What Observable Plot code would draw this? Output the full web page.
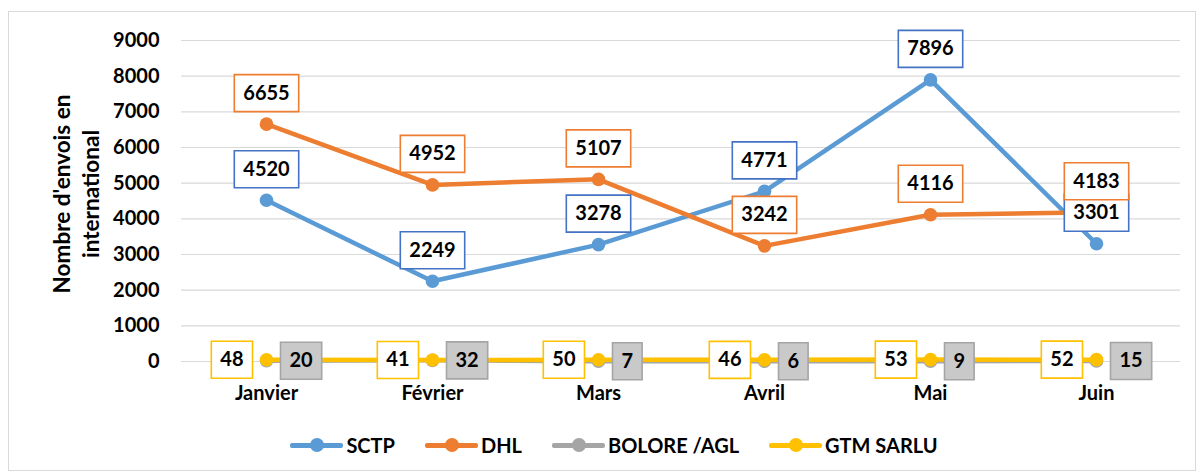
<!DOCTYPE html>
<html><head><meta charset="utf-8">
<script src="https://cdn.jsdelivr.net/npm/d3@7"></script>
<script src="https://cdn.jsdelivr.net/npm/@observablehq/plot@0.6"></script>
<style>
body{margin:0;background:#fff;font-family:Lato,sans-serif;}
#wrap{position:relative;width:1204px;height:475px;overflow:hidden;}
#frame{position:absolute;left:8px;top:11px;width:1186px;height:458px;border:1px solid #d9d9d9;pointer-events:none;}
#chart{position:absolute;left:0;top:0;}
#legend{position:absolute;left:24px;right:0;top:430px;height:30px;display:flex;justify-content:center;align-items:center;gap:30px;font-weight:bold;font-size:20px;color:#000;}
.item{display:flex;align-items:center;gap:3px;}
.sw{position:relative;width:53px;height:14px;}
.sw .ln{position:absolute;left:0;right:0;top:5px;height:4.5px;border-radius:2px;}
.sw .dt{position:absolute;left:20px;top:0;width:14px;height:14px;border-radius:50%;}
</style></head>
<body>
<div id="wrap"><div id="chart"></div><div id="frame"></div><div id="legend"></div></div>
<script>
const months = ["Janvier","Février","Mars","Avril","Mai","Juin"];
const seriesNames = ["SCTP","DHL","BOLORE /AGL","GTM SARLU"];
const seriesColors = ["#5b9bd5","#ed7d31","#a5a5a5","#ffc000"];
const sctp = [4520,2249,3278,4771,7896,3301];
const dhl = [6655,4952,5107,3242,4116,4183];
const bolore = [20,32,7,6,9,15];
const gtm = [48,41,50,46,53,52];
const yTicks = [0,1000,2000,3000,4000,5000,6000,7000,8000,9000];
const yTitle = "Nombre d'envois en\ninternational";

const seriesValues = [sctp, dhl, bolore, gtm];
const table = seriesNames.map((s, i) => months.map((m, j) => ({series: s, month: m, value: seriesValues[i][j]})));
const [dSCTP, dDHL, dBOL, dGTM] = table;

const FONT = "Lato, sans-serif";
const CH = 11.6, PAD = 18, BH = 37;
function boxSymbol(w, h, ox) {
  return {draw(ctx) { ctx.moveTo(ox, -h/2); ctx.lineTo(ox + w, -h/2); ctx.lineTo(ox + w, h/2); ctx.lineTo(ox, h/2); ctx.closePath(); }};
}
function labels(data, {stroke, fill, anchor, dy = 0, gap = 14}) {
  const groups = d3.group(data, d => String(d.value).length);
  const marks = [];
  for (const [n, rows] of groups) {
    const w = n * CH + PAD;
    let ox, tdx;
    if (anchor === "center") { ox = -w/2; tdx = 0; }
    else if (anchor === "left") { ox = -w; tdx = -gap - w/2; }
    else { ox = 0; tdx = gap + w/2; }
    const dx = anchor === "left" ? -gap : anchor === "right" ? gap : 0;
    marks.push(Plot.dot(rows, {x: "month", y: "value", symbol: boxSymbol(w, BH, ox), r: 5, dx, dy, fill, stroke, strokeWidth: 1.6}));
    marks.push(Plot.text(rows, {x: "month", y: "value", text: d => String(d.value), dx: tdx, dy, fontSize: 20, fontWeight: "bold", fill: "#000"}));
  }
  return marks;
}

const lineOpts = (c) => ({x: "month", y: "value", stroke: c, strokeWidth: 4.5, strokeLinecap: "round", strokeLinejoin: "round"});
const dotOpts = (c) => ({x: "month", y: "value", fill: c, r: 6.8});

const chart = Plot.plot({
  width: 1204,
  height: 420,
  marginLeft: 181,
  marginRight: 24,
  marginTop: 40,
  marginBottom: 59,
  style: {fontFamily: FONT, background: "transparent"},
  x: {type: "point", domain: months, padding: 0.5, label: null},
  y: {domain: [0, 9000], ticks: yTicks, label: null},
  marks: [
    Plot.ruleY(yTicks, {stroke: "#d9d9d9", strokeWidth: 1.2}),
    Plot.axisY(yTicks, {tickSize: 0, tickPadding: 22, tickFormat: d => String(d), fontSize: 20, fontWeight: "bold", fill: "#000", label: null}),
    Plot.axisX({tickSize: 0, tickPadding: 24, fontSize: 20, fontWeight: "bold", fill: "#000", label: null}),
    Plot.text([yTitle], {frameAnchor: "left", textAnchor: "middle", lineAnchor: "middle", dx: -106, dy: -7, rotate: -90, fontSize: 22.5, fontWeight: "bold", fill: "#000", lineHeight: 1.28}),
    Plot.line(dBOL, lineOpts(seriesColors[2])),
    Plot.dot(dBOL, dotOpts(seriesColors[2])),
    Plot.line(dGTM, lineOpts(seriesColors[3])),
    Plot.dot(dGTM, dotOpts(seriesColors[3])),
    Plot.line(dSCTP, lineOpts(seriesColors[0])),
    Plot.dot(dSCTP, dotOpts(seriesColors[0])),
    Plot.line(dDHL, lineOpts(seriesColors[1])),
    Plot.dot(dDHL, dotOpts(seriesColors[1])),
    ...labels(dGTM, {stroke: "#ffc000", fill: "#fff", anchor: "left"}),
    ...labels(dBOL, {stroke: "#a5a5a5", fill: "#c9c9c9", anchor: "right"}),
    ...labels(dSCTP, {stroke: "#4472c4", fill: "#fff", anchor: "center", dy: -31}),
    ...labels(dDHL, {stroke: "#ed7d31", fill: "#fff", anchor: "center", dy: -31})
  ]
});
document.getElementById("chart").appendChild(chart);

const legend = document.getElementById("legend");
seriesNames.forEach((s, i) => {
  const it = document.createElement("div");
  it.className = "item";
  it.innerHTML = `<div class="sw"><div class="ln" style="background:${seriesColors[i]}"></div><div class="dt" style="background:${seriesColors[i]}"></div></div><span>${s}</span>`;
  legend.appendChild(it);
});
</script>
</body></html>
